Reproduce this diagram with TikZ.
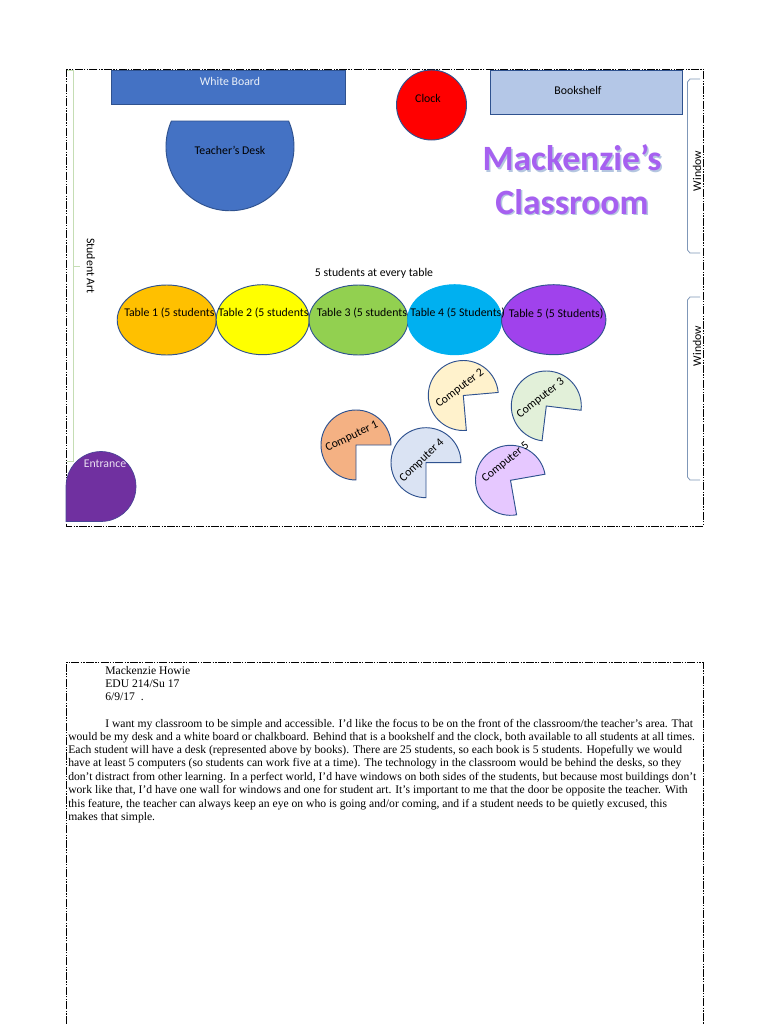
\documentclass[tikz,border=0pt]{standalone}
\usepackage{fontspec}
\setmainfont{Carlito}
\newfontfamily\bodyserif{Liberation Serif}
\definecolor{boardblue}{HTML}{4472C4}
\definecolor{edgeblue}{HTML}{2F528F}
\definecolor{shelfblue}{HTML}{B4C7E7}
\definecolor{artgreen}{HTML}{C5DDB4}
\definecolor{winedge}{HTML}{7F97B8}
\definecolor{tableone}{HTML}{FFC000}
\definecolor{tabletwo}{HTML}{FFFF00}
\definecolor{tablethree}{HTML}{92D050}
\definecolor{tablefour}{HTML}{00B0F0}
\definecolor{tablefive}{HTML}{A042EC}
\definecolor{compone}{HTML}{F4B183}
\definecolor{comptwo}{HTML}{FFF2CC}
\definecolor{compthree}{HTML}{E2F0D9}
\definecolor{compfour}{HTML}{DAE3F3}
\definecolor{compfive}{HTML}{E6C8FF}
\definecolor{entrancepurple}{HTML}{7030A0}
\definecolor{titlepurple}{HTML}{A660F0}
\definecolor{titleshadow}{HTML}{B4C6E0}
\tikzset{
  x=0.75pt,y=-0.75pt,
  shape edge/.style={draw=edgeblue,line width=0.7pt},
  label text/.style={inner sep=0pt,font=\fontsize{8.85}{10}\selectfont,text=black},
  page frame/.style={black,line width=0.65pt,dash pattern=on 6pt off 1pt on 1pt off 1pt on 1pt off 1pt},
  serif line/.style={anchor=base west,inner sep=0pt,font=\bodyserif\fontsize{8.72}{10}\selectfont},
  title text/.style={inner sep=0pt,font=\bfseries\fontsize{26.7}{30}\selectfont},
}
\newcommand{\pacman}[4]{% centre x, y, rotation, fill
  \draw[shape edge,fill=#4] (#1,#2) -- ++(#3+90:35) arc[start angle=#3+90,end angle=#3+360,radius=35] -- cycle;
}
\begin{document}
\begin{tikzpicture}
\useasboundingbox (0,0) rectangle (768,1024);
\fill[white] (0,0) rectangle (768,1024);
% page frames
\draw[page frame] (66.5,69) rectangle (703,526);
\draw[page frame] (66.5,1024) -- (66.5,662) -- (703,662) -- (703,1024);
% student art bracket
\draw[artgreen,line width=0.6pt] (67,70) -- (73.5,70) -- (73.5,461) -- (67,461);
\draw[artgreen,line width=0.6pt] (73.5,266) -- (80,266);
\node[label text,rotate=-90] (art) at (91,266) {Student Art};
% windows
\draw[winedge,line width=0.6pt] (700,79) -- (690,79) -- (687.5,82) -- (687.5,250) -- (690,253) -- (700,253);
\draw[winedge,line width=0.6pt] (700,297) -- (690,297) -- (687.5,300) -- (687.5,477) -- (690,480) -- (700,480);
\node[label text,rotate=90] (win1) at (697,171) {Window};
\node[label text,rotate=90] (win2) at (697,346) {Window};
% front of room
\filldraw[fill=boardblue,draw=edgeblue,line width=0.5pt] (111.5,70) rectangle (345,104.5);
\node[label text,text=white!90!boardblue] (board) at (230,81) {White Board};
\draw[shape edge,fill=boardblue] (171.4,121) arc[start angle=203.7,end angle=-23.7,radius=64] -- cycle;
\node[label text] (desk) at (230,150) {Teacher’s Desk};
\draw[shape edge,fill=red] (431.5,105) circle[radius=35];
\node[label text] (clock) at (428,98) {Clock};
\draw[shape edge,fill=shelfblue] (490,70) rectangle (682,114);
\node[label text] (shelf) at (578,90) {Bookshelf};
% title
\node[title text,text=titleshadow] (t1s) at (573.5,159.5) {Mackenzie’s};
\node[title text,text=titleshadow] (t2s) at (573.5,203.5) {Classroom};
\node[title text,text=titlepurple] (t1) at (572,158) {Mackenzie’s};
\node[title text,text=titlepurple] (t2) at (572,202) {Classroom};
% tables
\node[label text] (note) at (374,273) {5 students at every table};
\draw[shape edge,fill=tableone] (166.7,320) ellipse[x radius=49.5,y radius=35];
\draw[shape edge,fill=tabletwo] (262.7,319.7) ellipse[x radius=46.5,y radius=35];
\draw[shape edge,fill=tablethree] (358.5,320) ellipse[x radius=49.5,y radius=35];
\draw[draw=tablefour,line width=0.7pt,fill=tablefour] (454.7,319.7) ellipse[x radius=47,y radius=35];
\draw[shape edge,fill=tablefive] (553.7,319.7) ellipse[x radius=52.2,y radius=35];
\node[label text,anchor=west] (tb1) at (124,313.5) {Table 1 (5 students};
\node[label text,anchor=west] (tb2) at (218,313.5) {Table 2 (5 students};
\node[label text,anchor=west] (tb3) at (316.5,313.5) {Table 3 (5 students};
\node[label text,anchor=west] (tb4) at (410,312.5) {Table 4 (5 Students)};
\node[label text,anchor=west] (tb5) at (508.5,313.5) {Table 5 (5 Students)};
% computers
\pacman{356}{445}{0}{compone}
\pacman{463.3}{395.5}{-5}{comptwo}
\pacman{546.3}{406}{7}{compthree}
\pacman{426}{462.7}{0}{compfour}
\pacman{510.5}{480.3}{-10}{compfive}
\node[label text,rotate=26] (c1) at (352,436.5) {Computer 1};
\node[label text,rotate=37] (c2) at (460,388.5) {Computer 2};
\node[label text,rotate=38] (c3) at (540.7,398.5) {Computer 3};
\node[label text,rotate=44] (c4) at (422,460.5) {Computer 4};
\node[label text,rotate=39] (c5) at (505.7,462.5) {Computer 5};
% entrance
\draw[draw=edgeblue!60!entrancepurple,line width=0.5pt,fill=entrancepurple] (66,486.5) arc[start angle=180,end angle=450,radius=35] -- (66,521.5) -- cycle;
\node[label text,text=white!85!entrancepurple] (ent) at (105,464) {Entrance};
% essay
\node[serif line] (h1) at (105,674) {Mackenzie Howie};
\node[serif line] (h2) at (105,687) {EDU 214/Su 17};
\node[serif line] (h3) at (105,700.5) {6/9/17 \ .};
\node[serif line] (p1) at (105,727) {I want my classroom to be simple and accessible. I’d like the focus to be on the front of the classroom/the teacher’s area. That};
\node[serif line] (p2) at (68,740) {would be my desk and a white board or chalkboard. Behind that is a bookshelf and the clock, both available to all students at all times.};
\node[serif line] (p3) at (68,753) {Each student will have a desk (represented above by books). There are 25 students, so each book is 5 students. Hopefully we would};
\node[serif line] (p4) at (68,766.5) {have at least 5 computers (so students can work five at a time). The technology in the classroom would be behind the desks, so they};
\node[serif line] (p5) at (68,780) {don’t distract from other learning. In a perfect world, I’d have windows on both sides of the students, but because most buildings don’t};
\node[serif line] (p6) at (68,793.5) {work like that, I’d have one wall for windows and one for student art. It’s important to me that the door be opposite the teacher. With};
\node[serif line] (p7) at (68,807) {this feature, the teacher can always keep an eye on who is going and/or coming, and if a student needs to be quietly excused, this};
\node[serif line] (p8) at (68,820.5) {makes that simple.};
\end{tikzpicture}
\end{document}
